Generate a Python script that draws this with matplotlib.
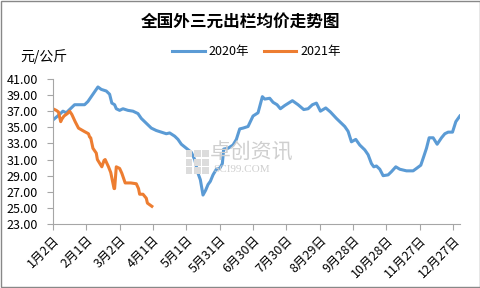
import numpy as np
import matplotlib.pyplot as plt
from matplotlib.patches import Rectangle

plt.rcParams['font.family'] = ['Noto Sans CJK SC', 'DejaVu Sans']

# days counted from Jan 2
days_2020 = [0, 6, 9, 12, 15, 19.5, 28.5, 31.5, 36, 40.5, 43.5, 48, 51, 53, 55.5, 57,
             60, 63, 67.5, 72, 76.5, 79.5, 84, 88.5, 93, 97.5, 102, 105, 109.5, 112.5,
             115.5, 120, 124.5, 127.5, 130.5, 132.6, 135, 137.4, 139.5, 141.6, 144,
             147, 150, 152.4, 153.6, 157.5, 162, 165, 168, 171, 175.5, 180, 184.5,
             188.4, 190.5, 195, 198, 201.6, 204.6, 208.5, 215.4, 220.5, 225.6, 229.5,
             233.4, 237, 240.6, 245.4, 249.6, 255, 259.5, 262.5, 265.5, 268.5, 272.4,
             276, 280.5, 283.5, 286.5, 288.6, 291, 294, 297, 301.5, 304.5, 308.4, 312,
             318, 324, 327, 330.9, 333.6, 336, 338.4, 342, 345.6, 349.5, 352.5, 355.5,
             359.4, 362.4, 366]
price_2020 = [35.9, 36.6, 37.0, 36.8, 37.2, 37.8, 37.8, 38.2, 39.1, 40.0, 39.7, 39.5,
              39.1, 38.0, 37.8, 37.3, 37.1, 37.3, 37.1, 37.0, 36.7, 36.1, 35.5, 34.9,
              34.6, 34.4, 34.2, 34.3, 33.9, 33.5, 32.9, 32.4, 31.9, 31.0, 29.3, 28.5,
              26.6, 27.2, 27.9, 28.3, 29.1, 29.8, 29.9, 30.5, 32.3, 32.4, 32.8, 33.5,
              34.8, 34.9, 35.1, 36.4, 36.8, 38.8, 38.5, 38.6, 38.1, 37.8, 37.3, 37.7,
              38.3, 37.8, 37.2, 37.3, 37.8, 38.0, 37.0, 37.4, 36.9, 36.1, 35.5, 35.1,
              34.5, 33.2, 33.5, 32.8, 32.2, 31.6, 30.5, 30.1, 30.2, 29.8, 29.0, 29.1,
              29.5, 30.1, 29.8, 29.6, 29.6, 29.9, 30.3, 31.4, 32.4, 33.7, 33.7, 32.9,
              33.7, 34.2, 34.4, 34.4, 35.7, 36.4]
days_2021 = [0, 3, 5, 7, 8, 10, 13, 15, 17, 20, 23, 28, 32, 33, 34, 36, 39, 40,
             44, 46, 47, 50, 52, 55, 55.5, 57, 60, 62, 64, 65, 70, 75, 77, 78,
             81, 84, 85, 89]
price_2021 = [37.3, 37.1, 36.9, 35.7, 36.0, 36.4, 36.7, 37.0, 36.6, 35.7, 34.9,
              34.5, 34.2, 33.8, 33.7, 32.4, 31.8, 31.0, 30.1, 30.9, 31.0, 30.1,
              29.4, 27.4, 27.4, 30.1, 29.9, 29.3, 28.5, 28.1, 28.1, 28.0, 27.4,
              26.7, 26.7, 26.2, 25.6, 25.2]

tick_days = [0, 30, 60, 90, 120, 150, 180, 210, 240, 270, 300, 330, 360]
tick_labels = ['1月2日', '2月1日', '3月2日', '4月1日', '5月1日', '5月31日', '6月30日',
               '7月30日', '8月29日', '9月28日', '10月28日', '11月27日', '12月27日']

fig = plt.figure(figsize=(4.81, 2.88), dpi=100)
ax = fig.add_axes([0.110, 0.222, 0.846, 0.504])

# watermark
fig.text(0.437, 0.47, '卓创资讯', fontsize=15, color='#cfcfcf', ha='left', va='center')
fig.text(0.443, 0.41, 'SCI99.COM', fontsize=8, color='#cfcfcf', ha='left', va='center',
         family='Liberation Serif')
for i in range(3):
    for j in range(3):
        fig.patches.append(Rectangle((0.386 + i * 0.017, 0.455 - j * 0.03), 0.014, 0.024,
                                     transform=fig.transFigure, color='#dcdcdc', lw=0))

ax.plot(days_2020, price_2020, color='#5B9BD5', lw=2.2, label='2020年')
ax.plot(days_2021, price_2021, color='#ED7D31', lw=2.2, label='2021年')

ax.set_xlim(0, 366)
ax.set_ylim(23, 41)
ax.set_yticks(np.arange(23, 42, 2))
ax.set_yticklabels([f'{v:.2f}' for v in np.arange(23, 42, 2)], fontsize=9)
ax.set_xticks(tick_days)
ax.set_xticklabels(tick_labels, rotation=45, ha='right', rotation_mode='anchor', fontsize=9)
for s in ['top', 'right']:
    ax.spines[s].set_visible(False)
for s in ['left', 'bottom']:
    ax.spines[s].set_color('#a6a6a6')
ax.tick_params(axis='both', color='#a6a6a6', length=4)
ax.tick_params(axis='y', pad=7)
ax.tick_params(axis='x', pad=3)

fig.text(0.5, 0.925, '全国外三元出栏均价走势图', ha='center', va='center',
         fontsize=12, fontweight='bold')
fig.text(0.042, 0.805, '元/公斤', ha='left', va='center', fontsize=10)
ax.legend(loc='center', bbox_to_anchor=(0.5, 1.186), ncol=2, frameon=False, fontsize=9,
          handlelength=2.6, columnspacing=1.2, handletextpad=0.3)

fig.patches.append(Rectangle((0.002, 0.003), 0.996, 0.994, transform=fig.transFigure,
                             fill=False, edgecolor='#888888', lw=1))
fig.savefig('out.png', dpi=100)
